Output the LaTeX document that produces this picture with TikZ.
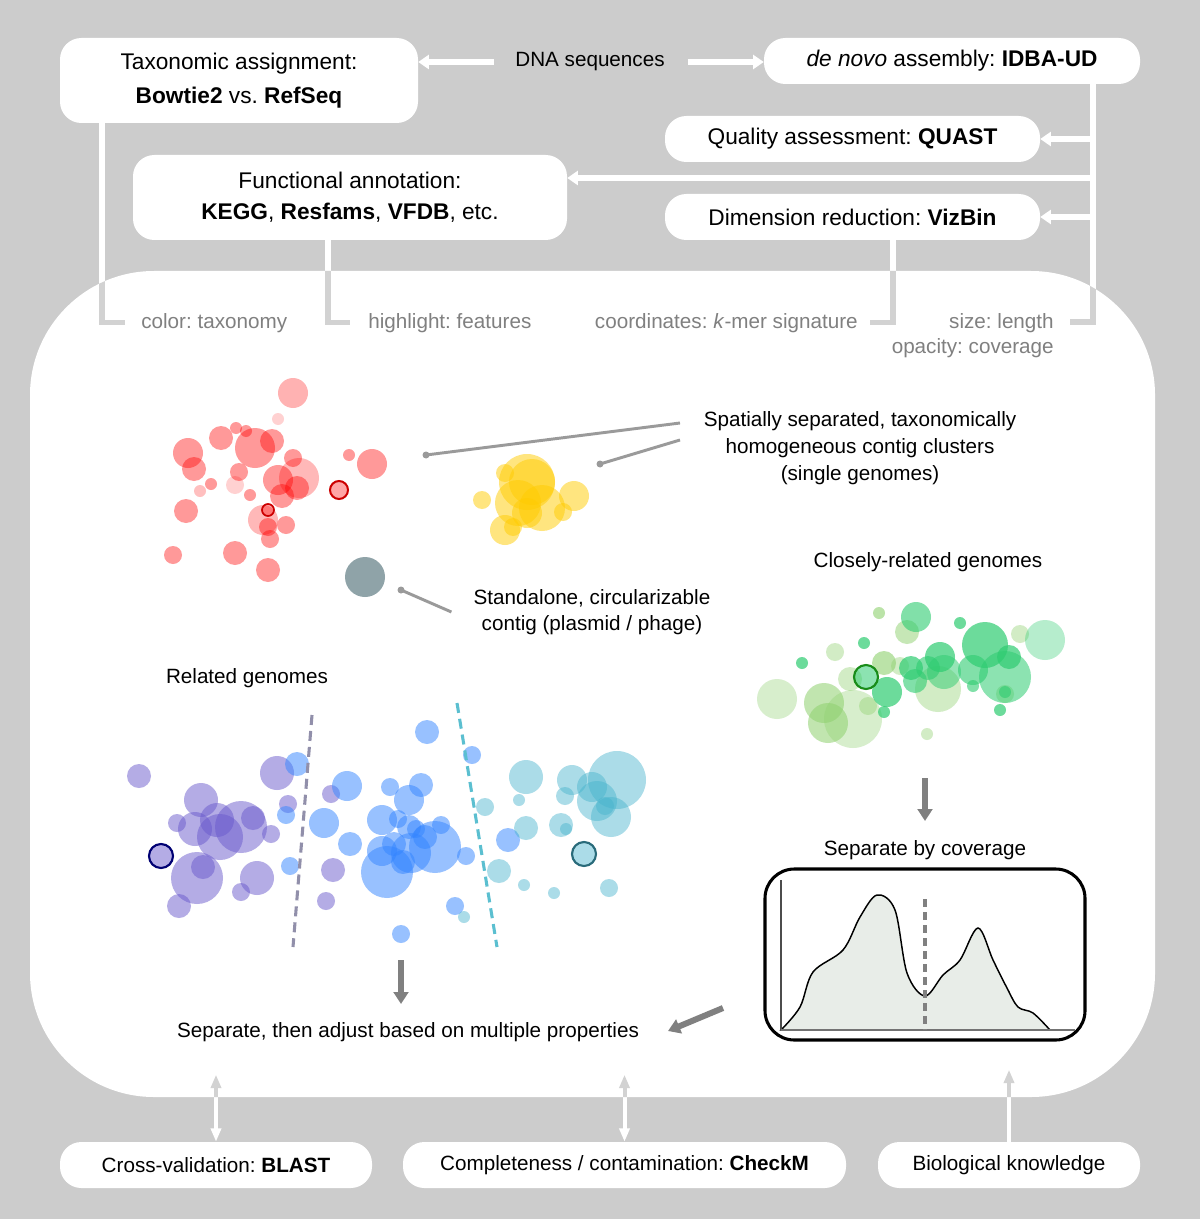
\documentclass[tikz,border=0pt]{standalone}
\usepackage{fontspec}
\setmainfont{Liberation Sans}
\frenchspacing
\usetikzlibrary{arrows.meta}
\definecolor{bg}{HTML}{CCCCCC}
\definecolor{lgray}{HTML}{D2D2D2}
\definecolor{labgray}{HTML}{808080}
\definecolor{leadgray}{HTML}{9A9A9A}
\definecolor{arrgray}{HTML}{808080}
\definecolor{slatec}{HTML}{8FA3A8}
\definecolor{yel}{RGB}{255,204,0}
\definecolor{grd}{RGB}{46,204,113}
\definecolor{grl}{RGB}{143,209,111}
\definecolor{pur}{RGB}{106,90,205}
\definecolor{blu}{RGB}{51,133,255}
\definecolor{cya}{RGB}{69,179,204}
\definecolor{dashpur}{HTML}{918FAA}
\definecolor{dashcya}{HTML}{5BBFD0}
\definecolor{covfill}{HTML}{E8EDE8}
\def\cc{white}
\newcommand\connpaths{%
  \draw[conn] (denovo.south -| trunk) -- (trunk) -- ++(-23,0);
  \draw[conn,wtip] (quast.east -| trunk) -- (quast.east);
  \draw[conn,wtip] (fb) -- (fb -| func.east);
  \draw[conn,wtip] (viz.east -| trunk) -- (viz.east);
  \draw[conn] (tax.south -| c1) |- ([xshift=-12pt]lbl1.west);
  \draw[conn] (func.south -| c2) |- ([xshift=-13.5pt]lbl2.west);
  \draw[conn] (viz.south -| c3) |- ([xshift=9pt]lbl3.east);
  \draw[conn,wtip,shorten <=15.75pt] (dna.west) -- (dna.west -| tax.east);
  \draw[conn,wtip,shorten <=17pt] (dna.east) -- (dna.east -| denovo.west);
  \draw[bconn,{Triangle[length=10pt,width=7.5pt]}-{Triangle[length=10pt,width=7.5pt]}] (blast.north) -- ++(0,-67);
  \draw[bconn,{Triangle[length=10pt,width=7.5pt]}-{Triangle[length=10pt,width=7.5pt]}] (checkm.north) -- ++(0,-67);
  \draw[bconn,-{Triangle[length=10pt,width=7.5pt]}] (bio.north) -- ++(0,-72);
}
\tikzset{
  box/.style={fill=white, rounded corners=16pt, inner sep=0pt, align=center, font=\fontsize{17}{19}\selectfont},
  lbl/.style={text=labgray, inner sep=0pt},
  txt/.style={inner sep=0pt, align=center},
  conn/.style={draw=\cc, line width=4pt},
  bconn/.style={draw=\cc, line width=3pt},
  wtip/.style={-{Triangle[length=8pt,width=10.5pt]}},
  garrow/.style={draw=arrgray, line width=4.5pt, -{Triangle[length=9pt,width=11pt]}},
  leader/.style={draw=leadgray, line width=2.2pt},
  rb/.style={fill=red, fill opacity=#1},
  yb/.style={fill=yel, fill opacity=0.5},
  gd/.style={fill=grd, fill opacity=#1},
  gl/.style={fill=grl, fill opacity=#1},
  pb/.style={fill=pur, fill opacity=0.5},
  bb/.style={fill=blu, fill opacity=0.5},
  cb/.style={fill=cya, fill opacity=0.45},
}
\begin{document}
\begin{tikzpicture}[x=0.75pt,y=-0.75pt,font=\fontsize{15.5}{19}\selectfont]
\useasboundingbox (0,0) rectangle (1200,1219);
\fill[bg] (0,0) rectangle (1200,1219);
% main region
\fill[white, rounded corners=93pt] (30,271) rectangle (1155,1097);

% top boxes
\node[box, minimum width=268.5pt, minimum height=63.75pt, font=\fontsize{17}{25.5}\selectfont] (tax) at (239,80.5) {Taxonomic assignment:\\\textbf{Bowtie2} vs. \textbf{RefSeq}};
\node[txt] (dna) at (590,62) {DNA sequences};
\node[box, minimum width=282pt, minimum height=34.5pt] (denovo) at (952,61) {\textit{de novo} assembly: \textbf{IDBA-UD}};
\node[box, minimum width=281.25pt, minimum height=34.5pt] (quast) at (852.5,139) {Quality assessment: \textbf{QUAST}};
\node[box, minimum width=325.5pt, minimum height=63.75pt, font=\fontsize{17}{23.5}\selectfont] (func) at (350,197.5) {Functional annotation:\\\textbf{KEGG}, \textbf{Resfams}, \textbf{VFDB}, etc.};
\node[box, minimum width=281.25pt, minimum height=34.5pt] (viz) at (852.5,217) {Dimension reduction: \textbf{VizBin}};

% labels
\node[lbl, anchor=base west] (lbl1) at (141,328) {color: taxonomy};
\node[lbl, anchor=base west] (lbl2) at (368,328) {highlight: features};
\node[lbl, anchor=base east] (lbl3) at (858,328) {coordinates: \textit{k}-mer signature};
\node[lbl, anchor=base east] (lbl4) at (1054,328) {size: length};
\node[lbl, anchor=base east] (lbl5) at (1054,353) {opacity: coverage};

% bottom boxes
\node[box, font=\fontsize{15.5}{19}\selectfont, minimum width=234pt, minimum height=34.5pt] (blast) at (216,1165) {Cross-validation: \textbf{BLAST}};
\node[box, font=\fontsize{15.5}{19}\selectfont, minimum width=332.25pt, minimum height=34.5pt] (checkm) at (624.5,1165) {Completeness / contamination: \textbf{CheckM}};
\node[box, font=\fontsize{15.5}{19}\selectfont, minimum width=196.5pt, minimum height=34.5pt] (bio) at (1009,1165) {Biological knowledge};

\coordinate (trunk) at (1093,322);
\coordinate (fb) at (1093,178);
\coordinate (c1) at (102,322);
\coordinate (c2) at (328,322);
\coordinate (c3) at (893,322);

% connectors: white on gray, light gray on white
\connpaths
\begin{scope}
  \clip[rounded corners=93pt] (30,271) rectangle (1155,1097);
  \def\cc{lgray}
  \connpaths
\end{scope}

% red cluster
\foreach \a/\b/\r/\o in {293/393/15/0.3, 278/419/6/0.18, 236/428/6/0.4, 246/431/6/0.4, 221/438/12/0.4,
  255/448/20/0.4, 272/441/12/0.4, 188/453/15/0.4, 194/469/12/0.4, 293/458/9/0.4, 349/455/6/0.4,
  372/464/15/0.4, 299/478/20/0.28, 278/480/15/0.4, 297/488/12/0.4, 282/496/12/0.4, 239/472/9/0.4,
  211/484/6/0.4, 200/491/6/0.25, 235/485/9/0.18, 250/495/6/0.4, 263/520/15/0.28, 268/527/9/0.4,
  286/525/9/0.4, 270/539/9/0.4, 186/511/12/0.4, 173/555/9/0.4, 235/553/12/0.4, 268/570/12/0.4}
  \fill[rb=\o] (\a,\b) circle[radius=\r];
\filldraw[rb=0.35, draw=red!80!black, line width=1.5pt] (339,490) circle[radius=9];
\filldraw[rb=0.35, draw=red!80!black, line width=1.3pt] (268,510) circle[radius=6];
\fill[slatec] (365,577) circle[radius=20];

% yellow cluster
\foreach \a/\b/\r in {527/482/28, 532/482/23, 505/473/9, 518/503/23, 542/508/23, 527/513/15,
  574/496/15, 563/512/9, 482/500/9, 505/530/15, 513/527/9}
  \fill[yb] (\a,\b) circle[radius=\r];

% leaders
\fill[leadgray] (426,455) circle[radius=3.5];
\fill[leadgray] (600,464) circle[radius=3.5];
\fill[leadgray] (401,590) circle[radius=3.5];
\node[txt, font=\fontsize{15.5}{20}\selectfont] (spat) at (860,448) {Spatially separated, taxonomically\\homogeneous contig clusters\\(single genomes)};
\node[txt, font=\fontsize{15.5}{19.5}\selectfont] (stand) at (592,612) {Standalone, circularizable\\contig (plasmid / phage)};
\coordinate (d1) at (426,455);
\coordinate (d2) at (600,464);
\coordinate (d3) at (401,590);
\draw[leader] (d1) -- (680,423);
\draw[leader] (d2) -- (680,440);
\draw[leader] (d3) -- ([xshift=-16.5pt]stand.west);

% green cluster
\foreach \a/\b/\r/\o in {879/613/6/0.6, 907/632/12/0.5, 1020/634/9/0.4, 835/652/9/0.4, 884/663/12/0.6,
  900/666/9/0.4, 938/689/23/0.4, 1005/694/9/0.4, 850/679/12/0.4, 868/706/9/0.4, 777/699/20/0.35,
  824/703/20/0.55, 828/723/20/0.55, 853/719/29/0.35, 927/734/6/0.4}
  \fill[gl=\o] (\a,\b) circle[radius=\r];
\fill[gd=0.35] (1045,640) circle[radius=20];
\foreach \a/\b/\r/\o in {916/617/15/0.6, 960/623/6/0.7, 985/645/23/0.7, 864/643/6/0.7, 802/663/6/0.7,
  911/668/12/0.7, 915/681/12/0.6, 928/668/12/0.6, 940/657/15/0.7, 944/672/17/0.5, 973/670/15/0.6,
  973/686/6/0.6, 1005/677/26/0.55, 1009/657/12/0.7, 1005/692/6/0.6, 1000/710/6/0.7, 887/692/15/0.7,
  884/712/6/0.7}
  \fill[gd=\o] (\a,\b) circle[radius=\r];
\filldraw[gd=0.55, draw=green!50!black!90, line width=1.6pt] (866,677) circle[radius=12];

% related genomes clusters
\foreach \a/\b/\r in {139/776/12, 201/800/17, 177/823/9, 195/829/17, 217/820/17, 220/837/23,
  241/827/26, 253/818/12, 271/834/9, 277/773/17, 288/804/9, 203/867/12, 197/878/26, 257/878/17,
  241/892/9, 179/906/12, 331/794/9, 333/870/12, 326/901/9}
  \fill[pb] (\a,\b) circle[radius=\r];
\filldraw[pb, draw=blue!45!black, line width=1.6pt] (161,856) circle[radius=12];
\foreach \a/\b/\r in {297/764/12, 286/815/9, 290/866/9, 427/732/12, 472/755/9, 347/786/15,
  390/787/9, 421/785/12, 409/800/15, 324/823/15, 382/820/15, 398/819/9, 409/827/12, 416/829/9,
  425/837/12, 441/825/9, 435/847/26, 411/853/20, 394/844/12, 382/851/15, 403/862/12, 387/872/26,
  350/844/12, 466/856/9, 455/906/9, 401/934/9, 508/840/12}
  \fill[bb] (\a,\b) circle[radius=\r];
\foreach \a/\b/\r in {464/917/6, 485/807/9, 526/777/17, 519/800/6, 526/828/12, 499/871/12,
  524/885/6, 554/893/6, 572/780/15, 565/796/9, 592/787/15, 597/801/20, 617/780/29, 611/817/20,
  605/806/9, 561/825/12, 566/829/6, 609/888/9}
  \fill[cb] (\a,\b) circle[radius=\r];
\filldraw[cb, draw=cya!60!black, line width=1.6pt] (584,854) circle[radius=12];

\draw[draw=dashpur, line width=2.3pt, dash pattern=on 7.5pt off 4.5pt] (312,715) -- (293,947);
\draw[draw=dashcya, line width=2.3pt, dash pattern=on 7.5pt off 4.5pt] (457,703) -- (497,947);

% text labels
\node[txt] (rel) at (247,678) {Related genomes};
\node[txt] (close) at (928,562) {Closely-related genomes};
\node[txt] (septxt) at (925,850) {Separate by coverage};
\node[txt] (final) at (408,1032) {Separate, then adjust based on multiple properties};

% coverage plot
\node[draw=black, line width=2.3pt, rounded corners=22pt, minimum width=240pt, minimum height=128.25pt, inner sep=0pt] (covbox) at (925,954.5) {};
\filldraw[fill=covfill, draw=black, line width=1.1pt] plot[smooth, tension=0.55] coordinates {(781,1030) (800,1007) (813,972) (843,950) (860,917) (877,895) (895,910) (907,973) (925,996) (943,975) (960,960) (978,928) (993,960) (1007,988) (1018,1007) (1033,1013) (1050,1030)} -- cycle;
\draw[draw=black!70, line width=1.1pt] (781,880) -- (781,1030);
\draw[draw=black!55, line width=1.5pt] (781,1030) -- (1075,1030);
\draw[draw=arrgray, line width=2.3pt, dash pattern=on 6pt off 3.75pt] (925,899) -- (925,1030);

% gray arrows
\coordinate (ga1) at (925,778);
\coordinate (ga2) at (925,821);
\coordinate (gb1) at (401,960);
\coordinate (gb2) at (401,1004);
\coordinate (gc1) at (723,1008);
\coordinate (gc2) at (668,1031);
\draw[garrow] (ga1) -- (ga2);
\draw[garrow] (gb1) -- (gb2);
\draw[garrow] (gc1) -- (gc2);
\end{tikzpicture}
\end{document}
